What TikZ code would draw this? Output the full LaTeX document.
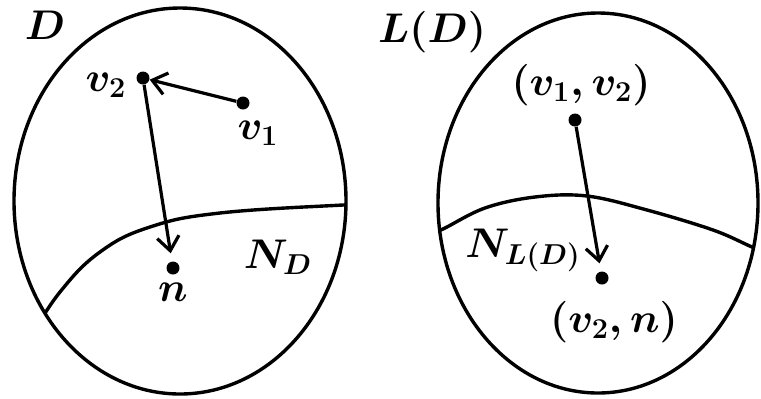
\documentclass[tikz,border=0pt]{standalone}
\usetikzlibrary{arrows.meta}
\begin{document}
\begin{tikzpicture}[x=0.5pt,y=-0.5pt,
  curve/.style={line width=1.7pt},
  dot/.style={circle,fill=black,inner sep=0pt,minimum size=6.5pt},
  arr/.style={line width=1.6pt,-{Straight Barb[length=7pt,width=11pt,line width=1.6pt]}},
  lab/.style={inner sep=0pt,font=\fontsize{20}{24}\selectfont\boldmath}]
\useasboundingbox (0,0) rectangle (761,398);
\fill[white] (0,0) rectangle (761,398);
% left ellipse
\draw[curve] (180,201) ellipse [x radius=166, y radius=193];
\begin{scope}
  \clip (180,201) ellipse [x radius=166, y radius=193];
  \draw[curve] plot[smooth,tension=0.7] coordinates {(30,338) (60,292) (100,252) (150,227) (220,213) (343,205) (360,205)};
\end{scope}
% right ellipse
\draw[curve] (598,203) ellipse [x radius=160, y radius=190];
\begin{scope}
  \clip (598,203) ellipse [x radius=160, y radius=190];
  \draw[curve] plot[smooth,tension=0.6] coordinates {(425,236) (443,229) (485,208) (535,197) (587,196) (647,210) (713,230) (752,247) (770,254)};
\end{scope}
% left graph
\node[dot] (v2) at (143,78) {};
\node[dot] (v1) at (243,103) {};
\node[dot] (n) at (173,268) {};
\draw[arr] (v1) -- (v2);
\draw[arr,shorten >=4pt] (v2) -- (n);
% right graph
\node[dot] (a) at (575,120) {};
\node[dot] (b) at (602,278) {};
\draw[arr,shorten >=4pt] (a) -- (b);
% labels
\node[lab] (lD) at (45,25) {$D$};
\node[lab] (lv2) at (106,85) {$v_2$};
\node[lab] (lv1) at (258,133) {$v_1$};
\node[lab] (lND) at (278,257) {$N_D$};
\node[lab] (ln) at (173,292) {$n$};
\node[lab] (lLD) at (432,32) {$L(D)$};
\node[lab] (la) at (581,85) {$(v_1,v_2)$};
\node[lab] (lNL) at (523,250) {$N_{L(D)}$};
\node[lab] (lb) at (614,322) {$(v_2,n)$};
\end{tikzpicture}
\end{document}
